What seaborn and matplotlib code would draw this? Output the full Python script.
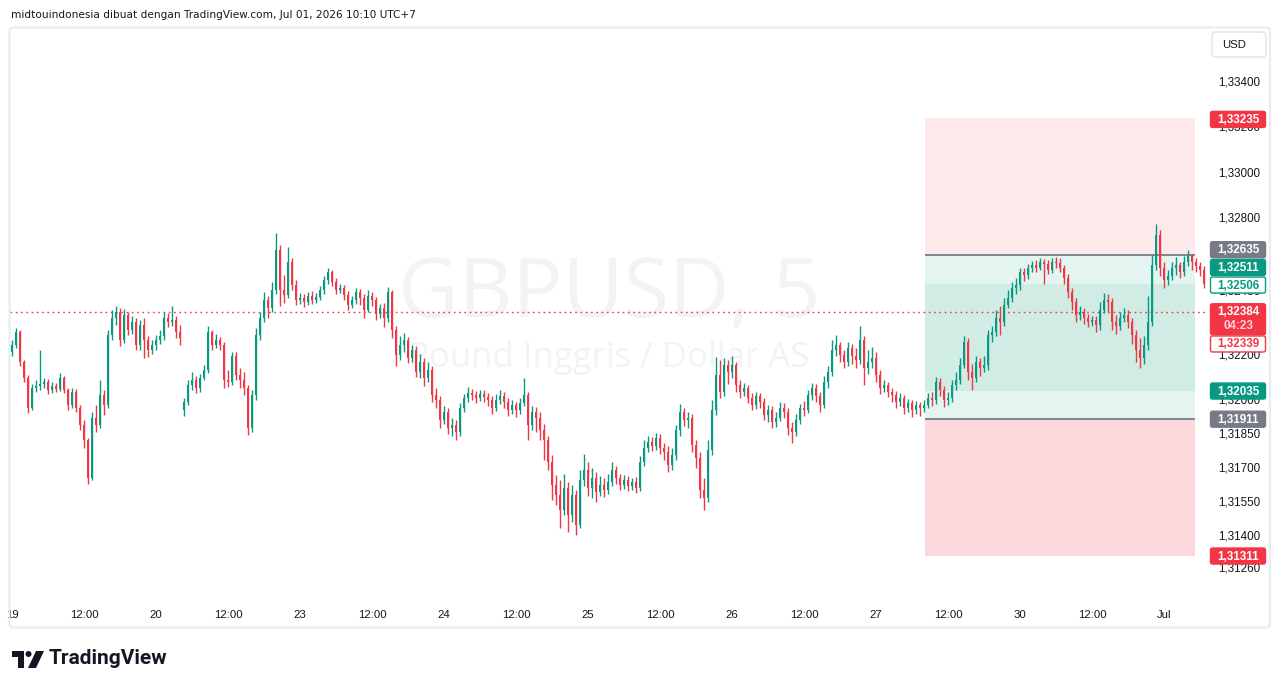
import numpy as np
import pandas as pd
import matplotlib
matplotlib.use("Agg")
import matplotlib.pyplot as plt
import seaborn as sns
from matplotlib.patches import Rectangle, FancyBboxPatch, Circle, Polygon

sns.set_theme(style="white")
plt.rcParams["font.family"] = ["Liberation Sans", "DejaVu Sans"]

# ---------------- data ----------------
first_open = 1.32207
gap_index = 43
gap_open = 1.31952

close = [
    1.32238, 1.32295, 1.32163, 1.32093, 1.31961, 1.32049, 1.32058, 1.32066, 1.32075, 1.32040,
    1.32058, 1.32044, 1.32093, 1.32040, 1.31974, 1.32031, 1.31961, 1.31886, 1.31820, 1.31653,
    1.31917, 1.31886, 1.32018, 1.31974, 1.32282, 1.32357, 1.32383, 1.32260, 1.32370, 1.32304,
    1.32339, 1.32238, 1.32326, 1.32260, 1.32216, 1.32238, 1.32260, 1.32278, 1.32357, 1.32339,
    1.32348, 1.32295, 1.32269, 1.31987, 1.32062, 1.32084, 1.32049, 1.32093, 1.32128, 1.32295,
    1.32238, 1.32260, 1.32238, 1.32084, 1.32075, 1.32190, 1.32106, 1.32084, 1.32049, 1.31873,
    1.32018, 1.32282, 1.32357, 1.32436, 1.32401, 1.32480, 1.32656, 1.32480, 1.32458, 1.32603,
    1.32502, 1.32436, 1.32445, 1.32427, 1.32454, 1.32436, 1.32449, 1.32480, 1.32524, 1.32559,
    1.32515, 1.32480, 1.32489, 1.32458, 1.32414, 1.32436, 1.32471, 1.32445, 1.32392, 1.32454,
    1.32436, 1.32374, 1.32401, 1.32357, 1.32471, 1.32304, 1.32194, 1.32238, 1.32260, 1.32181,
    1.32216, 1.32119, 1.32163, 1.32093, 1.32128, 1.32018, 1.31996, 1.31908, 1.31943, 1.31873,
    1.31886, 1.31855, 1.31961, 1.32005, 1.32027, 1.32018, 1.32005, 1.32022, 1.32009, 1.31996,
    1.31961, 1.31996, 1.32014, 1.31987, 1.31952, 1.31974, 1.31952, 1.31983, 1.32018, 1.31886,
    1.31943, 1.31917, 1.31864, 1.31820, 1.31723, 1.31622, 1.31578, 1.31512, 1.31609, 1.31490,
    1.31578, 1.31446, 1.31644, 1.31688, 1.31609, 1.31653, 1.31591, 1.31622, 1.31600, 1.31635,
    1.31688, 1.31653, 1.31622, 1.31644, 1.31618, 1.31635, 1.31609, 1.31723, 1.31785, 1.31811,
    1.31794, 1.31829, 1.31785, 1.31767, 1.31710, 1.31754, 1.31864, 1.31943, 1.31908, 1.31917,
    1.31798, 1.31741, 1.31600, 1.31565, 1.31776, 1.31952, 1.32106, 1.32031, 1.32150, 1.32119,
    1.32150, 1.32062, 1.32031, 1.32049, 1.32005, 1.31974, 1.32014, 1.31987, 1.31930, 1.31952,
    1.31899, 1.31917, 1.31961, 1.31943, 1.31873, 1.31855, 1.31908, 1.31961, 1.31952, 1.32018,
    1.32049, 1.32014, 1.31974, 1.32075, 1.32119, 1.32216, 1.32238, 1.32194, 1.32163, 1.32225,
    1.32190, 1.32172, 1.32260, 1.32137, 1.32163, 1.32181, 1.32106, 1.32049, 1.32062, 1.32031,
    1.32018, 1.31987, 1.32005, 1.31961, 1.31983, 1.31952, 1.31974, 1.31961, 1.31974, 1.32005,
    1.31996, 1.32075, 1.32040, 1.31996, 1.32005, 1.32062, 1.32084, 1.32150, 1.32251, 1.32119,
    1.32093, 1.32163, 1.32137, 1.32150, 1.32282, 1.32295, 1.32357, 1.32339, 1.32414, 1.32445,
    1.32489, 1.32502, 1.32559, 1.32546, 1.32577, 1.32590, 1.32577, 1.32603, 1.32594, 1.32568,
    1.32603, 1.32599, 1.32577, 1.32533, 1.32471, 1.32427, 1.32370, 1.32383, 1.32357, 1.32339,
    1.32348, 1.32326, 1.32392, 1.32436, 1.32427, 1.32339, 1.32322, 1.32357, 1.32370, 1.32339,
    1.32282, 1.32216, 1.32181, 1.32238, 1.32339, 1.32590, 1.32722, 1.32577, 1.32524, 1.32542,
    1.32577, 1.32590, 1.32559, 1.32603, 1.32630, 1.32603, 1.32586, 1.32568, 1.32506,
]

high = [
    1.32260, 1.32313, 1.32304, 1.32172, 1.32106, 1.32066, 1.32084, 1.32216, 1.32093, 1.32088,
    1.32075, 1.32071, 1.32115, 1.32102, 1.32049, 1.32049, 1.32044, 1.31974, 1.31908, 1.31829,
    1.31943, 1.31974, 1.32084, 1.32040, 1.32304, 1.32392, 1.32410, 1.32401, 1.32396, 1.32383,
    1.32366, 1.32357, 1.32348, 1.32357, 1.32278, 1.32260, 1.32282, 1.32304, 1.32383, 1.32379,
    1.32410, 1.32366, 1.32326, 1.32005, 1.32084, 1.32119, 1.32102, 1.32110, 1.32150, 1.32322,
    1.32304, 1.32286, 1.32273, 1.32251, 1.32128, 1.32207, 1.32207, 1.32137, 1.32119, 1.32062,
    1.32040, 1.32313, 1.32383, 1.32471, 1.32454, 1.32515, 1.32731, 1.32678, 1.32546, 1.32669,
    1.32621, 1.32524, 1.32467, 1.32462, 1.32471, 1.32476, 1.32467, 1.32498, 1.32542, 1.32577,
    1.32568, 1.32533, 1.32506, 1.32502, 1.32476, 1.32454, 1.32489, 1.32484, 1.32462, 1.32480,
    1.32471, 1.32449, 1.32418, 1.32423, 1.32493, 1.32480, 1.32322, 1.32278, 1.32291, 1.32273,
    1.32238, 1.32234, 1.32198, 1.32181, 1.32163, 1.32146, 1.32049, 1.32014, 1.31970, 1.31961,
    1.31917, 1.31908, 1.31983, 1.32022, 1.32053, 1.32044, 1.32036, 1.32040, 1.32040, 1.32027,
    1.32014, 1.32022, 1.32040, 1.32031, 1.32005, 1.31996, 1.31987, 1.32005, 1.32093, 1.32031,
    1.31970, 1.31965, 1.31943, 1.31890, 1.31838, 1.31754, 1.31666, 1.31644, 1.31670, 1.31635,
    1.31622, 1.31600, 1.31688, 1.31758, 1.31723, 1.31697, 1.31679, 1.31662, 1.31653, 1.31670,
    1.31723, 1.31706, 1.31670, 1.31666, 1.31662, 1.31653, 1.31657, 1.31750, 1.31820, 1.31838,
    1.31833, 1.31851, 1.31846, 1.31807, 1.31794, 1.31785, 1.31886, 1.31978, 1.31961, 1.31943,
    1.31934, 1.31820, 1.31767, 1.31653, 1.31820, 1.31996, 1.32185, 1.32172, 1.32181, 1.32172,
    1.32190, 1.32163, 1.32084, 1.32071, 1.32062, 1.32027, 1.32031, 1.32027, 1.32005, 1.31974,
    1.31970, 1.31943, 1.31987, 1.31983, 1.31961, 1.31899, 1.31934, 1.31978, 1.31992, 1.32040,
    1.32071, 1.32066, 1.32031, 1.32102, 1.32146, 1.32260, 1.32282, 1.32251, 1.32216, 1.32251,
    1.32242, 1.32225, 1.32322, 1.32278, 1.32216, 1.32229, 1.32207, 1.32128, 1.32084, 1.32075,
    1.32049, 1.32036, 1.32027, 1.32018, 1.32000, 1.31996, 1.31992, 1.31987, 1.31996, 1.32027,
    1.32031, 1.32097, 1.32093, 1.32058, 1.32031, 1.32084, 1.32119, 1.32181, 1.32278, 1.32269,
    1.32154, 1.32190, 1.32181, 1.32190, 1.32304, 1.32322, 1.32392, 1.32410, 1.32445, 1.32480,
    1.32515, 1.32533, 1.32577, 1.32577, 1.32594, 1.32608, 1.32612, 1.32621, 1.32616, 1.32612,
    1.32621, 1.32625, 1.32621, 1.32590, 1.32550, 1.32489, 1.32445, 1.32410, 1.32401, 1.32374,
    1.32366, 1.32366, 1.32427, 1.32467, 1.32462, 1.32445, 1.32370, 1.32383, 1.32401, 1.32392,
    1.32357, 1.32304, 1.32269, 1.32278, 1.32454, 1.32634, 1.32770, 1.32744, 1.32603, 1.32568,
    1.32603, 1.32625, 1.32603, 1.32630, 1.32656, 1.32638, 1.32621, 1.32603, 1.32586,
]

low = [
    1.32190, 1.32225, 1.32146, 1.32075, 1.31939, 1.31952, 1.32031, 1.32040, 1.32049, 1.32022,
    1.32027, 1.32031, 1.32036, 1.32027, 1.31952, 1.31961, 1.31943, 1.31864, 1.31785, 1.31626,
    1.31644, 1.31855, 1.31873, 1.31930, 1.31961, 1.32260, 1.32326, 1.32234, 1.32247, 1.32282,
    1.32286, 1.32216, 1.32216, 1.32181, 1.32185, 1.32198, 1.32216, 1.32242, 1.32260, 1.32317,
    1.32322, 1.32269, 1.32238, 1.31926, 1.31974, 1.32040, 1.32027, 1.32031, 1.32084, 1.32115,
    1.32216, 1.32225, 1.32216, 1.32049, 1.32053, 1.32062, 1.32084, 1.32049, 1.32018, 1.31842,
    1.31855, 1.31996, 1.32260, 1.32339, 1.32357, 1.32383, 1.32462, 1.32410, 1.32423, 1.32445,
    1.32480, 1.32414, 1.32418, 1.32405, 1.32414, 1.32418, 1.32423, 1.32436, 1.32462, 1.32506,
    1.32498, 1.32462, 1.32467, 1.32436, 1.32392, 1.32401, 1.32418, 1.32414, 1.32357, 1.32383,
    1.32410, 1.32348, 1.32357, 1.32317, 1.32339, 1.32269, 1.32146, 1.32172, 1.32207, 1.32159,
    1.32163, 1.32097, 1.32093, 1.32058, 1.32075, 1.31987, 1.31961, 1.31873, 1.31890, 1.31846,
    1.31838, 1.31820, 1.31838, 1.31943, 1.31987, 1.31996, 1.31983, 1.31992, 1.31987, 1.31970,
    1.31934, 1.31948, 1.31978, 1.31961, 1.31926, 1.31934, 1.31921, 1.31934, 1.31970, 1.31820,
    1.31864, 1.31855, 1.31820, 1.31732, 1.31688, 1.31556, 1.31534, 1.31433, 1.31490, 1.31415,
    1.31459, 1.31402, 1.31433, 1.31618, 1.31574, 1.31565, 1.31547, 1.31574, 1.31569, 1.31582,
    1.31618, 1.31626, 1.31600, 1.31604, 1.31596, 1.31600, 1.31587, 1.31596, 1.31706, 1.31767,
    1.31772, 1.31776, 1.31758, 1.31732, 1.31679, 1.31688, 1.31732, 1.31838, 1.31882, 1.31873,
    1.31767, 1.31697, 1.31565, 1.31512, 1.31547, 1.31754, 1.31930, 1.32005, 1.32014, 1.32066,
    1.32093, 1.32031, 1.32005, 1.32014, 1.31983, 1.31952, 1.31956, 1.31961, 1.31908, 1.31899,
    1.31873, 1.31877, 1.31904, 1.31917, 1.31842, 1.31807, 1.31838, 1.31890, 1.31926, 1.31939,
    1.31996, 1.31987, 1.31943, 1.31961, 1.32049, 1.32102, 1.32190, 1.32163, 1.32137, 1.32146,
    1.32154, 1.32137, 1.32154, 1.32062, 1.32110, 1.32137, 1.32075, 1.32022, 1.32031, 1.32009,
    1.31987, 1.31961, 1.31970, 1.31934, 1.31943, 1.31921, 1.31934, 1.31926, 1.31943, 1.31961,
    1.31970, 1.31978, 1.32014, 1.31965, 1.31974, 1.31987, 1.32040, 1.32066, 1.32137, 1.32084,
    1.32040, 1.32075, 1.32102, 1.32119, 1.32128, 1.32251, 1.32278, 1.32282, 1.32322, 1.32401,
    1.32427, 1.32462, 1.32480, 1.32520, 1.32528, 1.32559, 1.32559, 1.32568, 1.32506, 1.32550,
    1.32555, 1.32577, 1.32559, 1.32506, 1.32445, 1.32392, 1.32339, 1.32348, 1.32330, 1.32317,
    1.32322, 1.32295, 1.32304, 1.32379, 1.32383, 1.32304, 1.32286, 1.32304, 1.32339, 1.32313,
    1.32242, 1.32163, 1.32137, 1.32154, 1.32216, 1.32322, 1.32568, 1.32542, 1.32489, 1.32502,
    1.32524, 1.32546, 1.32533, 1.32542, 1.32586, 1.32568, 1.32559, 1.32542, 1.32489,
]

x_tick_labels = ["19", "12:00", "20", "12:00", "23", "12:00", "24", "12:00", "25",
                 "12:00", "26", "12:00", "27", "12:00", "30", "12:00", "Jul"]
candles_per_label = 18
price_ticks = [1.33400, 1.33200, 1.33000, 1.32800, 1.32480, 1.32200, 1.32000,
               1.31850, 1.31700, 1.31550, 1.31400, 1.31260]

last_price = 1.32384
countdown = "04:23"
zone_top, zone_upper = 1.33235, 1.32635
zone_inner_top, zone_inner_bottom = 1.32506, 1.32035
zone_lower, zone_bottom = 1.31911, 1.31311

# right-hand price labels: price, fill, edge, text colour, vertical nudge (px)
label_prices = [1.33235, 1.32635, 1.32511, 1.32506, 1.32339, 1.32035, 1.31911, 1.31311]
label_fill = ["#F23645", "#787B86", "#089981", "white", "white", "#089981", "#787B86", "#F23645"]
label_edge = ["#F23645", "#787B86", "#089981", "#089981", "#F23645", "#089981", "#787B86", "#F23645"]
label_text = ["white", "white", "white", "#089981", "#F23645", "white", "white", "white"]
label_nudge = [1, -5, -15.5, 1, 22, 0, 0, 0.5]

title = "midtouindonesia dibuat dengan TradingView.com, Jul 01, 2026 10:10 UTC+7"

UP, DOWN, GRAY, INK = "#089981", "#F23645", "#787B86", "#131722"


def fmt(p):
    return f"{p:.5f}".replace(".", ",")


# ---------------- figure ----------------
W, H = 1281, 688
fig = plt.figure(figsize=(W / 100, H / 100), dpi=100)
fig.patch.set_facecolor("white")
L, R, T, B = 10, 1208, 28, 598
ax = fig.add_axes([L / W, 1 - B / H, (R - L) / W, (B - T) / H])
ax.set_facecolor("white")

df = pd.DataFrame({"close": close, "high": high, "low": low})
df["open"] = np.r_[first_open, df["close"].values[:-1]]
df.loc[gap_index, "open"] = gap_open
df["bar"] = np.arange(len(df))
df["high"] = df[["high", "open", "close"]].max(axis=1)
df["low"] = df[["low", "open", "close"]].min(axis=1)
up = df["close"] >= df["open"]
colors = np.where(up, UP, DOWN)

ax.set_xlim(-0.5, 299)
ax.set_ylim(1.31124, 1.33633)

# watermark
ax.text(0.5, 0.493, "GBPUSD, 5", transform=ax.transAxes, ha="center", va="baseline",
        fontsize=60, color="#F2F3F5", family=["Open Sans", "DejaVu Sans"], zorder=0.2)
ax.text(0.5, 0.405, "Pound Inggris / Dollar AS", transform=ax.transAxes, ha="center",
        va="baseline", fontsize=25, color="#F2F3F5", family=["Open Sans", "DejaVu Sans"], zorder=0.2)

# position tool zones
z0, z1 = 228.25, 295.75
zw = z1 - z0
for lo, hi, c, z in [(zone_upper, zone_top, "#FDE9EA", 1.0),
                     (zone_lower, zone_upper, "#E4F4F0", 1.0),
                     (zone_inner_bottom, zone_inner_top, "#D1EBE5", 1.1),
                     (zone_bottom, zone_lower, "#FBD8DB", 1.0)]:
    ax.add_patch(Rectangle((z0, lo), zw, hi - lo, facecolor=c, edgecolor="none", zorder=z))
ax.hlines([zone_upper, zone_lower], z0, z1, colors=GRAY, lw=1.3, zorder=1.5)

# last price dotted line
ax.axhline(last_price, color=DOWN, lw=1.0, linestyle=(0, (1.2, 2.6)), zorder=2.5)

# candles
ax.vlines(df["bar"], df["low"], df["high"], colors=colors, lw=1.0, zorder=3)
body_bottom = df[["open", "close"]].min(axis=1)
body_h = (df["close"] - df["open"]).abs().clip(lower=0.00002)
ax.bar(df["bar"], body_h, bottom=body_bottom, width=0.72, color=colors, linewidth=0, zorder=3.1)

# axes cosmetics
for s in ax.spines.values():
    s.set_visible(False)
ax.grid(False)
ax.yaxis.tick_right()
ax.set_yticks(price_ticks)
ax.set_yticklabels([fmt(t) for t in price_ticks])
ax.set_xticks(np.arange(len(x_tick_labels)) * candles_per_label)
ax.set_xticklabels(x_tick_labels)
ax.tick_params(axis="y", length=0, pad=7, labelsize=8.4, labelcolor=INK)
ax.tick_params(axis="x", length=0, pad=9, labelsize=8.2, labelcolor=INK)
ax.set_xlabel("")
ax.set_ylabel("")

# ---------------- overlay in pixel coordinates ----------------
ov = fig.add_axes([0, 0, 1, 1], zorder=10)
ov.set_xlim(0, W)
ov.set_ylim(H, 0)
ov.axis("off")
ov.set_facecolor("none")


def py(p):
    return H - ax.transData.transform((0, p))[1]


# frame
ov.add_patch(FancyBboxPatch((9.5, 27.5), 1260.5, 600, boxstyle="round,pad=0,rounding_size=4",
                            fc="none", ec="#E9ECF1", lw=1.5))

# price labels
for p, fc, ec, tc, nd in zip(label_prices, label_fill, label_edge, label_text, label_nudge):
    yc = py(p) + nd
    ov.add_patch(FancyBboxPatch((1210.5, yc - 8), 55, 16, boxstyle="round,pad=0,rounding_size=2",
                                fc=fc, ec=ec, lw=1, zorder=5))
    ov.text(1238, yc + 0.5, fmt(p), ha="center", va="center", fontsize=8.4, color=tc,
            weight="bold", zorder=6)

yl = py(last_price)
ov.add_patch(FancyBboxPatch((1210.5, yl - 8), 55, 31, boxstyle="round,pad=0,rounding_size=2",
                            fc=DOWN, ec=DOWN, lw=1, zorder=5))
ov.text(1238, yl + 0.5, fmt(last_price), ha="center", va="center", fontsize=8.4,
        color="white", weight="bold", zorder=6)
ov.text(1238, yl + 14, countdown, ha="center", va="center", fontsize=8.4,
        color="#FFD3D8", weight="bold", zorder=6)

# currency box
ov.add_patch(FancyBboxPatch((1212, 32), 54, 25, boxstyle="round,pad=0,rounding_size=4",
                            fc="white", ec="#E0E3EB", lw=1))
ov.text(1222, 45, "USD", ha="left", va="center", fontsize=8.2, color=INK)

# title
ov.text(11, 15, title, ha="left", va="center", fontsize=7.6, color=INK,
        family=["DejaVu Sans"])

# TradingView logo
ov.add_patch(Rectangle((12, 651), 12, 6, fc=INK, ec="none"))
ov.add_patch(Rectangle((18, 651), 6, 17, fc=INK, ec="none"))
ov.add_patch(Circle((28.5, 654), 3, fc=INK, ec="none"))
ov.add_patch(Polygon([(28, 668), (36, 651), (44, 651), (36, 668)], closed=True, fc=INK, ec="none"))
ov.text(49, 659, "TradingView", ha="left", va="center", fontsize=15, weight="bold",
        color=INK, family=["Roboto", "DejaVu Sans"])

fig.savefig("out.png", dpi=100, facecolor="white")
